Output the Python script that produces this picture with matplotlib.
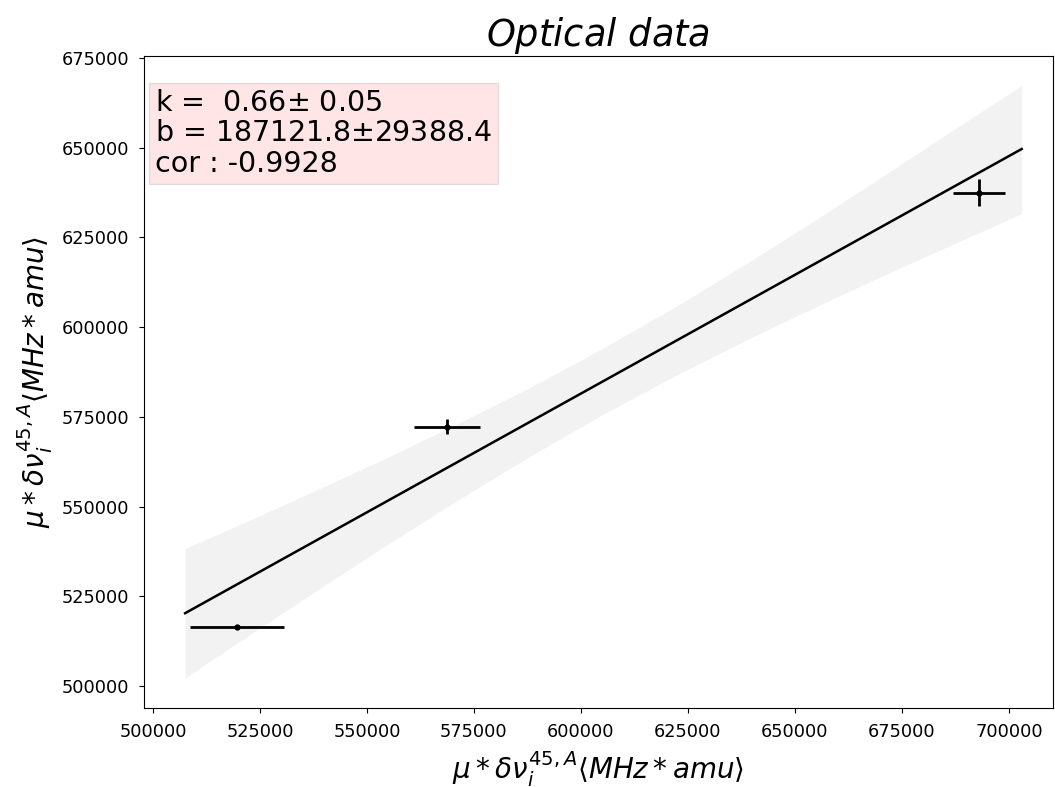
import matplotlib
matplotlib.use("Agg")
import matplotlib.pyplot as plt

# measured points with errors
x_pts = [519600, 568700, 693000]
y_pts = [516400, 572300, 637400]
x_err = [11000, 7700, 6000]
y_err = [500, 2100, 3750]

# fitted line
fit_x = [507500, 703000]
fit_y = [520300, 649600]

# confidence band
band_x = [507500, 525000, 540000, 555000, 570000, 587500, 605000,
          622500, 640000, 655000, 670000, 687000, 703000]
band_lo = [502300, 516200, 528000, 539600, 550900, 563600, 575600,
           586750, 597200, 605700, 614000, 623100, 631600]
band_hi = [538300, 547500, 555600, 563800, 572400, 582800, 594000,
           605950, 618700, 630000, 641600, 654900, 667300]

info = "k =  0.66$\\pm$ 0.05\nb = 187121.8$\\pm$29388.4\ncor : -0.9928"

fig = plt.figure(figsize=(10.55, 7.87), dpi=100)
ax = fig.add_axes([0.1365, 0.1004, 0.8615, 0.8284])

ax.fill_between(band_x, band_lo, band_hi, color="0.5", alpha=0.1, linewidth=0)
ax.plot(fit_x, fit_y, color="black", linewidth=1.8)
ax.errorbar(x_pts, y_pts, xerr=x_err, yerr=y_err, fmt="o", color="black",
            markersize=3.5, elinewidth=2, capsize=0)

ax.set_xlim(497900, 710300)
ax.set_ylim(493900, 675500)
ax.set_xticks([500000 + 25000 * i for i in range(9)])
ax.set_yticks([500000 + 25000 * i for i in range(8)])
ax.tick_params(labelsize=12.8)
ax.tick_params(axis="x", pad=7)
ax.tick_params(axis="y", pad=7)

ax.text(0.012, 0.95, info, transform=ax.transAxes, fontsize=20.5, va="top", ha="left",
        linespacing=1.12,
        bbox=dict(boxstyle="square,pad=0.2", facecolor="red", alpha=0.1))

ax.set_title(r"$Optical\ data$", fontsize=26.5, pad=5)
ax.set_xlabel(r"$\mu*\delta\nu_i^{45,A}\langle MHz*amu\rangle$", fontsize=20, labelpad=6)
ax.set_ylabel(r"$\mu*\delta\nu_i^{45,A}\langle MHz*amu\rangle$", fontsize=20, labelpad=5)

fig.savefig("out.png", dpi=100)
